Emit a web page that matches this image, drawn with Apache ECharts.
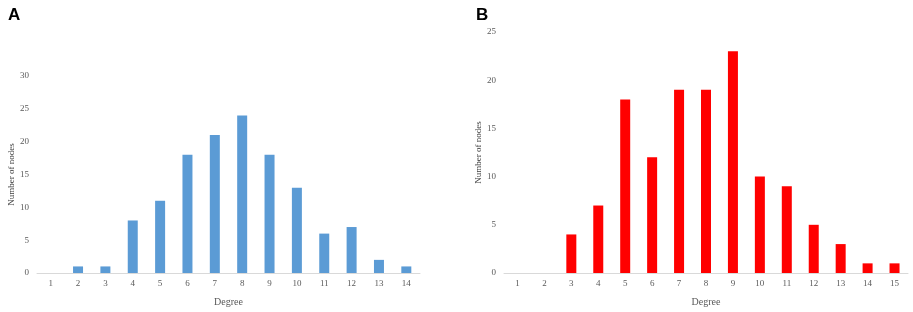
<!DOCTYPE html>
<html>
<head>
<meta charset="utf-8">
<script src="https://cdn.jsdelivr.net/npm/echarts@6/dist/echarts.min.js"></script>
<style>
  html, body { margin: 0; padding: 0; background: #fff; }
  #main { width: 913px; height: 312px; }
</style>
</head>
<body>
<div id="main"></div>
<script>
// panel A data
var degreeA = ['1', '2', '3', '4', '5', '6', '7', '8', '9', '10', '11', '12', '13', '14'];
var nodesA = [0, 1, 1, 8, 11, 18, 21, 24, 18, 13, 6, 7, 2, 1];
// panel B data
var degreeB = ['1', '2', '3', '4', '5', '6', '7', '8', '9', '10', '11', '12', '13', '14', '15'];
var nodesB = [0, 0, 4, 7, 18, 12, 19, 19, 23, 10, 9, 5, 3, 1, 1];

var tickFont = { fontFamily: 'Liberation Serif', fontSize: 9, color: '#595959' };
var axisLine = { show: true, lineStyle: { color: '#d9d9d9', width: 1 } };

function xAxisFor(idx, cats) {
    return {
        type: 'category', gridIndex: idx, data: cats,
        name: 'Degree', nameLocation: 'middle', nameGap: 24,
        nameTextStyle: { fontFamily: 'Liberation Serif', fontSize: 10, color: '#595959' },
        axisLine: axisLine, axisTick: { show: false },
        axisLabel: Object.assign({ margin: 6 }, tickFont)
    };
}
function yAxisFor(idx, max, gap) {
    return {
        type: 'value', gridIndex: idx, min: 0, max: max, interval: 5,
        name: 'Number of nodes', nameLocation: 'middle', nameGap: gap,
        nameTextStyle: { fontFamily: 'Liberation Serif', fontSize: 9, color: '#404040' },
        axisLine: { show: false }, axisTick: { show: false },
        splitLine: { show: false },
        axisLabel: Object.assign({ margin: 8 }, tickFont)
    };
}

var chart = echarts.init(document.getElementById('main'));
chart.setOption({
    backgroundColor: '#fff',
    animation: false,
    title: [
        { text: 'A', left: 3, top: 2, textStyle: { fontFamily: 'Liberation Sans', fontWeight: 'bold', fontSize: 17, color: '#000' } },
        { text: 'B', left: 471, top: 2, textStyle: { fontFamily: 'Liberation Sans', fontWeight: 'bold', fontSize: 17, color: '#000' } }
    ],
    grid: [
        { left: 37, right: 493, top: 76, bottom: 39 },
        { left: 504, right: 5, top: 32, bottom: 35 }
    ],
    xAxis: [xAxisFor(0, degreeA), xAxisFor(1, degreeB)],
    yAxis: [yAxisFor(0, 30, 19), yAxisFor(1, 25, 18)],
    series: [
        {
            type: 'bar', xAxisIndex: 0, yAxisIndex: 0, data: nodesA, barWidth: 10,
            itemStyle: { color: '#5b9bd5' }
        },
        {
            type: 'bar', xAxisIndex: 1, yAxisIndex: 1, data: nodesB, barWidth: 10,
            itemStyle: { color: '#ff0000' }
        }
    ]
});
</script>
</body>
</html>
